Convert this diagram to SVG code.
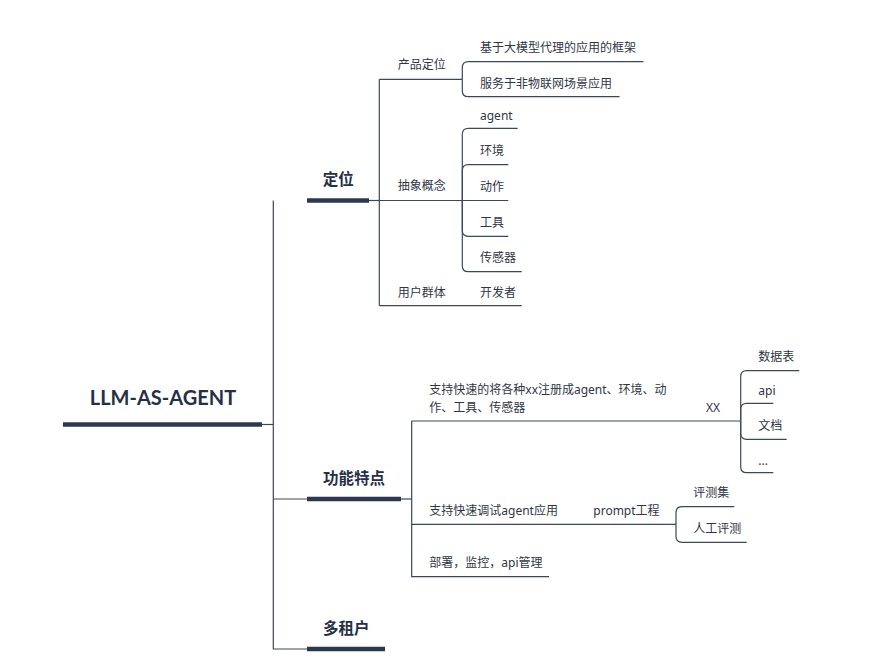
<svg xmlns="http://www.w3.org/2000/svg" width="882" height="658" viewBox="0 0 882 658">
<style>
.ln{stroke:#3e4759;stroke-width:1.2;fill:none}
.th{stroke:#2b3850;stroke-width:4.5;fill:none}
.t{font-family:"Noto Sans","Noto Sans CJK SC",sans-serif;font-size:12px;fill:#2f3645}
.b{font-family:"Lato","Noto Sans CJK SC",sans-serif;font-size:15.5px;font-weight:700;fill:#253047}
.r{font-family:"Lato","Noto Sans CJK SC",sans-serif;font-size:20px;font-weight:700;fill:#253047}
</style>
<rect width="882" height="658" fill="#ffffff"/>
<g id="connectors">
<path class="ln" d="M262,424.5H273.3"/>
<path class="ln" d="M273.3,200.5V649H307"/>
<path class="ln" d="M273.3,499H307"/>
<path class="ln" d="M369,200.5H379.3"/>
<path class="ln" d="M379.3,79.3V305.7"/>
<path class="ln" d="M379.3,79.3H462.3"/>
<path class="ln" d="M462.3,79.3V67.7Q462.3,61.7 468.3,61.7H643.5"/>
<path class="ln" d="M462.3,79.3V90.7Q462.3,96.7 468.3,96.7H619.5"/>
<path class="ln" d="M379.3,200.5H508.3"/>
<path class="ln" d="M462.3,200.5V134.3Q462.3,128.3 468.3,128.3H517.7"/>
<path class="ln" d="M462.3,200.5V170.7Q462.3,164.7 468.3,164.7H508.3"/>
<path class="ln" d="M462.3,200.5V230.3Q462.3,236.3 468.3,236.3H508.3"/>
<path class="ln" d="M462.3,200.5V265.7Q462.3,271.7 468.3,271.7H521.7"/>
<path class="ln" d="M379.3,305.7H521.7"/>
<path class="ln" d="M401,499H411.7"/>
<path class="ln" d="M411.7,421V576.7H549"/>
<path class="ln" d="M411.7,421H740.7"/>
<path class="ln" d="M740.7,421V376.7Q740.7,370.7 746.7,370.7H799.3"/>
<path class="ln" d="M740.7,421V409.3Q740.7,403.3 746.7,403.3H773.3"/>
<path class="ln" d="M740.7,421V433.3Q740.7,439.3 746.7,439.3H786.7"/>
<path class="ln" d="M740.7,421V466.7Q740.7,472.7 746.7,472.7H773.3"/>
<path class="ln" d="M411.7,524.3H676"/>
<path class="ln" d="M676,524.3V512.7Q676,506.7 682,506.7H734.3"/>
<path class="ln" d="M676,524.3V536.3Q676,542.3 682,542.3H746.7"/>
</g>
<g id="root">
<path class="th" d="M63,424.5H262"/>
<text class="r" x="163" y="404.5" text-anchor="middle">LLM-AS-AGENT</text>
</g>
<g id="dingwei">
<path class="th" d="M307,200.5H369"/>
<text class="b" x="322.7" y="185">定位</text>
</g>
<g id="gongneng">
<path class="th" d="M307,499H401"/>
<text class="b" x="323" y="484">功能特点</text>
</g>
<g id="duozuhu">
<path class="th" d="M307,649H385"/>
<text class="b" x="323" y="634">多租户</text>
</g>
<g id="chanpin"><text class="t" x="397.7" y="69.3">产品定位</text></g>
<g id="kuangjia"><text class="t" x="480" y="51.7">基于大模型代理的应用的框架</text></g>
<g id="fuwu"><text class="t" x="480" y="87.7">服务于非物联网场景应用</text></g>
<g id="chouxiang"><text class="t" x="397.7" y="190">抽象概念</text></g>
<g id="agent"><text class="t" x="480" y="119.5">agent</text></g>
<g id="huanjing"><text class="t" x="480" y="155">环境</text></g>
<g id="dongzuo"><text class="t" x="480" y="190.5">动作</text></g>
<g id="gongju"><text class="t" x="480" y="226.5">工具</text></g>
<g id="chuanganqi"><text class="t" x="480" y="262">传感器</text></g>
<g id="yonghu"><text class="t" x="397.7" y="296.5">用户群体</text></g>
<g id="kaifazhe"><text class="t" x="480" y="296.5">开发者</text></g>
<g id="zhuce"><text class="t" x="429.3" y="394">支持快速的将各种xx注册成agent、环境、动</text><text class="t" x="429.3" y="411.5">作、工具、传感器</text></g>
<g id="xx"><text class="t" x="706" y="412" font-size="13">XX</text></g>
<g id="shujubiao"><text class="t" x="758.3" y="360.5">数据表</text></g>
<g id="api"><text class="t" x="758.3" y="395">api</text></g>
<g id="wendang"><text class="t" x="758.3" y="430">文档</text></g>
<g id="etc"><text class="t" x="758.3" y="465">...</text></g>
<g id="tiaoshi"><text class="t" x="429.3" y="515">支持快速调试agent应用</text></g>
<g id="prompt"><text class="t" x="593.3" y="515">prompt工程</text></g>
<g id="pingceji"><text class="t" x="693.3" y="497">评测集</text></g>
<g id="rengong"><text class="t" x="693.3" y="533">人工评测</text></g>
<g id="bushu"><text class="t" x="429.3" y="566.7">部署，监控，api管理</text></g>
</svg>
